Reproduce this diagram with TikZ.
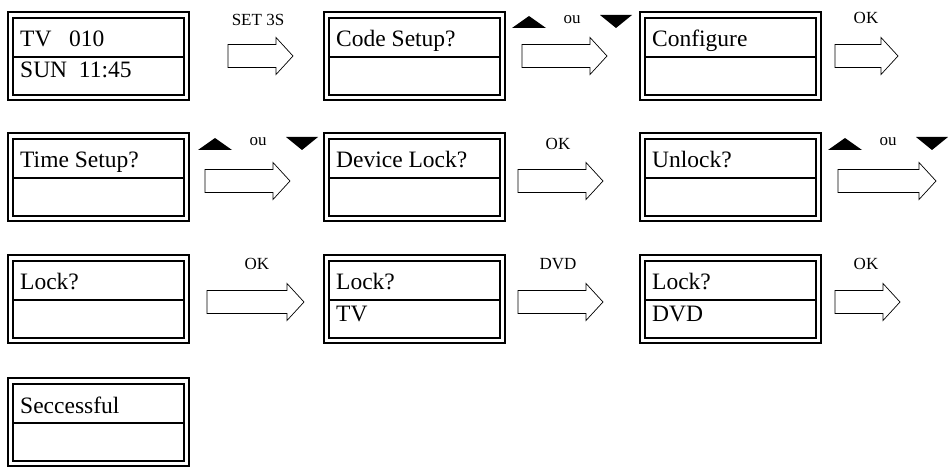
\documentclass[tikz,border=0pt]{standalone}
\usepackage{fontspec}
\setmainfont{Liberation Serif}
\begin{document}
\begin{tikzpicture}[x=1pt,y=-1pt,
  lbl/.style={font=\fontsize{17}{17}\selectfont,inner sep=0pt},
  txt/.style={font=\fontsize{23.5}{23.5}\selectfont,anchor=base west,inner sep=0pt}]
\useasboundingbox (0,0) rectangle (948,473);
\newcommand\lcdbox[4]{% x y line1 line2
  \draw[line width=1.6pt] (#1,#2) rectangle ++(181,88);
  \draw[line width=1.6pt] (#1+5,#2+6) rectangle ++(171,77);
  \draw[line width=1.6pt] (#1+5,#2+45) -- ++(171,0);
  \node[txt] at (#1+12,#2+35) {#3};
  \node[txt] at (#1+12,#2+66) {#4};}
\newcommand\bigarr[3]{% x1 x2 ymid
  \draw[line width=0.7pt] (#1,#3-11.5) -- (#2-17,#3-11.5) -- (#2-17,#3-18.5) -- (#2,#3)
   -- (#2-17,#3+18.5) -- (#2-17,#3+11.5) -- (#1,#3+11.5) -- cycle;}
\newcommand\updown[2]{% x y (left of up triangle, baseline)
  \fill (#1,#2) -- (#1+34,#2) -- (#1+17,#2-12) -- cycle;
  \node[lbl] at (#1+60,#2-8) {ou};
  \fill (#1+88,#2-13) -- (#1+120,#2-13) -- (#1+104,#2) -- cycle;}
% row 1
\lcdbox{8}{12}{TV\ \ \ 010}{SUN\ \ 11:45}
\lcdbox{324}{12}{Code Setup?}{}
\lcdbox{640}{12}{Configure}{}
\bigarr{228}{293}{56}\node[lbl] at (258,20) {SET 3S};
\bigarr{522}{607}{56}\updown{512}{28}
\bigarr{835}{898}{56}\node[lbl] at (866,18) {OK};
% row 2
\lcdbox{8}{133}{Time Setup?}{}
\lcdbox{324}{133}{Device Lock?}{}
\lcdbox{640}{133}{Unlock?}{}
\bigarr{205}{290}{181}\updown{198}{150}
\bigarr{518}{603}{181}\node[lbl] at (558,144) {OK};
\bigarr{838}{936}{181}\updown{828}{150}
% row 3
\lcdbox{8}{255}{Lock?}{}
\lcdbox{324}{255}{Lock?}{TV}
\lcdbox{640}{255}{Lock?}{DVD}
\bigarr{207}{304}{302}\node[lbl] at (257,264) {OK};
\bigarr{518}{603}{302}\node[lbl] at (558,264) {DVD};
\bigarr{835}{900}{302}\node[lbl] at (866,264) {OK};
% row 4
\lcdbox{8}{378}{Seccessful}{}
\end{tikzpicture}
\end{document}
